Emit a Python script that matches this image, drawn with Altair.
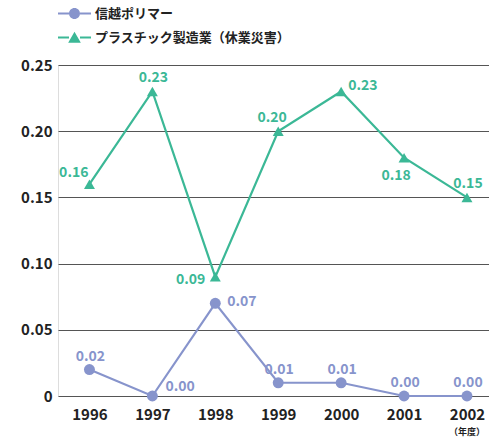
import altair as alt
import pandas as pd

years = [1996, 1997, 1998, 1999, 2000, 2001, 2002]
series_names = ["信越ポリマー", "プラスチック製造業（休業災害）"]
polymer = [0.02, 0.00, 0.07, 0.01, 0.01, 0.00, 0.00]
plastic = [0.16, 0.23, 0.09, 0.20, 0.23, 0.18, 0.15]
polymer_labels = ["0.02", "0.00", "0.07", "0.01", "0.01", "0.00", "0.00"]
plastic_labels = ["0.16", "0.23", "0.09", "0.20", "0.23", "0.18", "0.15"]
# label placement relative to point
polymer_place = ["above", "aboveright", "right", "above", "above", "above", "above"]
plastic_place = ["aboveleft", "above", "left", "aboveleft2", "upright", "belowleft", "above"]
y_ticks = [0, 0.05, 0.10, 0.15, 0.20, 0.25]
unit_note = "（年度）"

GREEN = "#3bb896"
PURPLE = "#8794cc"
FONT = "Noto Sans CJK JP"

rows = []
for i, y in enumerate(years):
    rows.append(dict(year=y, value=polymer[i], label=polymer_labels[i], place=polymer_place[i], series=series_names[0]))
for i, y in enumerate(years):
    rows.append(dict(year=y, value=plastic[i], label=plastic_labels[i], place=plastic_place[i], series=series_names[1]))
df = pd.DataFrame(rows)

W, H = 431, 331

xscale = alt.Scale(domain=[1995.5, 2002.35], nice=False, zero=False)
yscale = alt.Scale(domain=[0, 0.25], nice=False)
color_scale = alt.Scale(domain=series_names, range=[PURPLE, GREEN])

# legend symbols: line segment + marker
circ = "M-1,0A1,1 0 1,0 1,0A1,1 0 1,0 -1,0Z"
tri = "M0,-1.05L1.15,0.95H-1.15Z"
segs = "M-3,-0.18H-1V0.18H-3Z M1,-0.18H3V0.18H1Z"
shape_legend_scale = alt.Scale(domain=series_names, range=[segs + " " + circ, segs + " " + tri])

base = alt.Chart(df)

x_enc = alt.X("year:Q", scale=xscale,
              axis=alt.Axis(values=years, format="d", grid=False, domain=False, ticks=False,
                            labelFontSize=15, labelFontWeight="bold", labelColor="#222",
                            labelFont=FONT, labelPadding=11, title=None))
y_enc = alt.Y("value:Q", scale=yscale,
              axis=alt.Axis(values=y_ticks, grid=True, gridColor="#555", gridWidth=1,
                            domain=False, ticks=False,
                            labelExpr="datum.value == 0 ? '0' : format(datum.value, '.2f')",
                            labelFontSize=15, labelFontWeight="bold", labelColor="#222",
                            labelFont=FONT, labelPadding=6, title=None))

leg = alt.Legend(title=None, orient="none", legendX=10, legendY=-58,
                 labelFontSize=13, labelFontWeight="bold", labelFont=FONT,
                 labelColor="#222", symbolOpacity=1, symbolSize=121,
                 labelOffset=14, rowPadding=10, padding=0, labelLimit=400,
                 symbolStrokeWidth=0, symbolType="circle")

lines = base.mark_line(strokeWidth=2.2).encode(
    x=x_enc, y=y_enc,
    color=alt.Color("series:N", scale=color_scale),
    detail="series:N",
)

pts_circle = base.transform_filter(alt.datum.series == series_names[0]).mark_point(
    filled=True, opacity=1, size=120, shape="circle"
).encode(x="year:Q", y="value:Q", color=alt.Color("series:N", scale=color_scale))

pts_tri = base.transform_filter(alt.datum.series == series_names[1]).mark_point(
    filled=True, opacity=1, size=120, shape="triangle-up"
).encode(x="year:Q", y="value:Q", color=alt.Color("series:N", scale=color_scale))

legend_layer = base.mark_point(filled=True, opacity=0, size=121).encode(
    x="year:Q", y="value:Q",
    color=alt.Color("series:N", scale=color_scale, legend=leg),
    shape=alt.Shape("series:N", scale=shape_legend_scale, legend=leg),
)

offsets = {
    "above": dict(dx=1, dy=-13, align="center"),
    "aboveleft": dict(dx=-1, dy=-11, align="right"),
    "aboveleft2": dict(dx=-6, dy=-13, align="center"),
    "aboveright": dict(dx=13, dy=-9, align="left"),
    "left": dict(dx=-10, dy=3, align="right"),
    "right": dict(dx=12, dy=-1, align="left"),
    "upright": dict(dx=7, dy=-5, align="left"),
    "belowleft": dict(dx=-8, dy=18, align="center"),
}

text_layers = []
for place, o in offsets.items():
    t = base.transform_filter(alt.datum.place == place).mark_text(
        dx=o["dx"], dy=o["dy"], align=o["align"], baseline="middle",
        fontSize=14, fontWeight="bold", font=FONT,
    ).encode(
        x="year:Q", y="value:Q", text="label:N",
        color=alt.Color("series:N", scale=color_scale),
    )
    text_layers.append(t)

note = alt.Chart(pd.DataFrame({"year": [years[-1]], "t": [unit_note]})).mark_text(
    fontSize=9, fontWeight="bold", font=FONT, color="#222", baseline="middle", dy=36
).encode(x="year:Q", y=alt.value(H), text="t:N")

chart = alt.layer(legend_layer, lines, pts_circle, pts_tri, *text_layers, note).properties(
    width=W, height=H,
    autosize=alt.AutoSizeParams(type="none"),
    padding={"left": 58, "top": 65, "right": 0, "bottom": 43},
).configure_view(stroke=None).configure(background="white")

chart.save("out.html", embed_options={"renderer": "svg", "actions": False})
